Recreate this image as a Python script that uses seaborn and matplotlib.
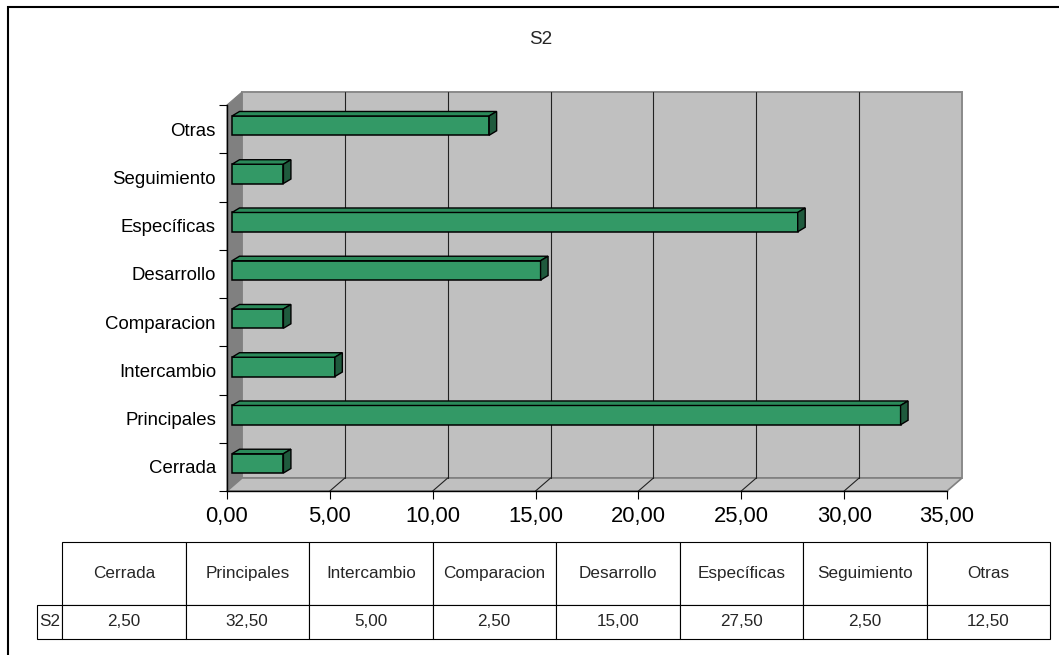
import matplotlib
matplotlib.use("Agg")
import matplotlib.pyplot as plt
import matplotlib.transforms as mtransforms
from matplotlib.patches import Polygon, Rectangle
from matplotlib.lines import Line2D
from matplotlib.ticker import FixedLocator, FuncFormatter
import seaborn as sns
import pandas as pd

# ---- data -----------------------------------------------------------------
categories = ["Cerrada", "Principales", "Intercambio", "Comparacion",
              "Desarrollo", "Específicas", "Seguimiento", "Otras"]
s2_values = [2.5, 32.5, 5.0, 2.5, 15.0, 27.5, 2.5, 12.5]
series_name = "S2"
x_ticks = [0, 5, 10, 15, 20, 25, 30, 35]


def fmt_es(v):
    return f"{v:.2f}".replace(".", ",")


# ---- style ----------------------------------------------------------------
sns.set_style("white")
plt.rcParams["font.family"] = ["Liberation Sans", "DejaVu Sans"]

W, H, DPI = 1059, 655, 100
fig = plt.figure(figsize=(W / DPI, H / DPI), dpi=DPI)
fig.patch.set_facecolor("white")


def fx(px):
    return px / W


def fy(py):
    return 1 - py / H


BAR_FRONT = "#339966"
BAR_TOP = "#2b8a5a"
BAR_SIDE = "#1f5a3d"
WALL = "#c0c0c0"
SIDE_WALL = "#808080"

# front plane of the 3-D plot box
ax = fig.add_axes([fx(227), fy(491), fx(947) - fx(227), fy(105) - fy(491)])
ax.patch.set_visible(False)

df = pd.DataFrame({"categoria": categories, "valor": s2_values})
order = categories[::-1]
sns.barplot(data=df, x="valor", y="categoria", order=order, orient="h",
            color=BAR_FRONT, saturation=1, width=0.4,
            edgecolor="black", linewidth=1.1, ax=ax, zorder=3)

n = len(categories)
ax.set_xlim(x_ticks[0], x_ticks[-1])
ax.set_ylim(n - 0.5, -0.5)
ax.set_xlabel("")
ax.set_ylabel("")

# pixel depth offsets (right, up)
DEPTH = (15, 13)
BAR_F = (5, 3.5)
BAR_B = (12.5, 8)

T = ax.transData
ID = mtransforms.IdentityTransform()


def d(x, y, off=(0, 0)):
    px, py = T.transform((x, y))
    return (px + off[0], py + off[1])


x_lo, x_hi = x_ticks[0], x_ticks[-1]
y_top, y_bot = -0.5, n - 0.5

# walls and floor
side = Polygon([d(x_lo, y_top), d(x_lo, y_bot), d(x_lo, y_bot, DEPTH), d(x_lo, y_top, DEPTH)],
               closed=True, facecolor=SIDE_WALL, edgecolor=SIDE_WALL, lw=0.8,
               transform=ID, clip_on=False, zorder=0.5)
back = Polygon([d(x_lo, y_top, DEPTH), d(x_hi, y_top, DEPTH), d(x_hi, y_bot, DEPTH), d(x_lo, y_bot, DEPTH)],
               closed=True, facecolor=WALL, edgecolor="#8a8a8a", lw=1.4,
               transform=ID, clip_on=False, zorder=0.4)
floor = Polygon([d(x_lo, y_bot), d(x_hi, y_bot), d(x_hi, y_bot, DEPTH), d(x_lo, y_bot, DEPTH)],
                closed=True, facecolor=WALL, edgecolor="#808080", lw=1.2,
                transform=ID, clip_on=False, zorder=0.5)
for p in (back, side, floor):
    ax.add_patch(p)

# gridlines on the back wall and their traces across the floor
for v in x_ticks[1:-1]:
    p0, p1 = d(v, y_bot, DEPTH), d(v, y_top, DEPTH)
    ax.add_line(Line2D([p0[0], p1[0]], [p0[1], p1[1]], color="#222222", lw=0.8,
                       transform=ID, clip_on=False, zorder=0.6))
    f0, f1 = d(v, y_bot), d(v, y_bot, DEPTH)
    ax.add_line(Line2D([f0[0], f1[0]], [f0[1], f1[1]], color="#222222", lw=0.8,
                       transform=ID, clip_on=False, zorder=0.6))

# 3-D bars: shift the front face and add top / side faces
shift = mtransforms.ScaledTranslation(BAR_F[0] / DPI, BAR_F[1] / DPI, fig.dpi_scale_trans)
for bar in list(ax.patches):
    if bar in (back, side, floor):
        continue
    x0, y0 = bar.get_x(), bar.get_y()
    x1, y1 = x0 + bar.get_width(), y0 + bar.get_height()
    bar.set_transform(T + shift)
    ytop = min(y0, y1)
    ybot = max(y0, y1)
    top = Polygon([d(x0, ytop, BAR_F), d(x1, ytop, BAR_F), d(x1, ytop, BAR_B), d(x0, ytop, BAR_B)],
                  closed=True, facecolor=BAR_TOP, edgecolor="black", lw=1.0,
                  transform=ID, clip_on=False, zorder=3.1)
    rside = Polygon([d(x1, ytop, BAR_F), d(x1, ybot, BAR_F), d(x1, ybot, BAR_B), d(x1, ytop, BAR_B)],
                    closed=True, facecolor=BAR_SIDE, edgecolor="black", lw=1.0,
                    transform=ID, clip_on=False, zorder=3.1)
    ax.add_patch(top)
    ax.add_patch(rside)

# axes, ticks and labels
for s in ("top", "right"):
    ax.spines[s].set_visible(False)
for s in ("left", "bottom"):
    ax.spines[s].set_color("black")
    ax.spines[s].set_linewidth(1.0)
    ax.spines[s].set_zorder(2.5)

ax.xaxis.set_major_locator(FixedLocator(x_ticks))
ax.xaxis.set_major_formatter(FuncFormatter(lambda v, _: fmt_es(v)))
ax.tick_params(axis="x", direction="out", length=5.5, width=0.8, pad=5.5,
               labelsize=15.8, colors="black", bottom=True)

ax.set_yticks([i - 0.5 for i in range(n + 1)])
ax.set_yticklabels([])
ax.set_yticks(list(range(n)), minor=True)
ax.set_yticklabels(order, minor=True)
ax.tick_params(axis="y", which="major", direction="out", length=5.5, width=0.8,
               left=True, colors="black")
ax.tick_params(axis="y", which="minor", length=0, pad=8, labelsize=13.4,
               labelcolor="black", left=True)

fig.text(fx(541), fy(40), series_name, ha="center", va="center", fontsize=13.6)

# data table under the chart (row-label column + one column per category)
t_left, t_right, t_top, t_mid, t_bot = 29, 1050, 542, 605, 639
t_label_right = 62
tax = fig.add_axes([fx(t_left), fy(t_bot), fx(t_right) - fx(t_left), fy(t_top) - fy(t_bot)])
tax.axis("off")
tw = t_right - t_left
th = t_bot - t_top
label_w = (t_label_right - t_left) / tw
col_w = (t_right - t_label_right) / tw / len(categories)
head_h = (t_mid - t_top) / th
row_h = (t_bot - t_mid) / th
tbl = tax.table(cellText=[[fmt_es(v) for v in s2_values]], colLabels=categories,
                rowLabels=[series_name], cellLoc="center", rowLoc="left",
                colLoc="center", bbox=[label_w, 0, 1 - label_w, 1])
tbl.auto_set_font_size(False)
tbl.set_fontsize(12.3)
for (r, c), cell in tbl.get_celld().items():
    cell.set_edgecolor("black")
    cell.set_linewidth(0.8)
    cell.set_width(label_w if c == -1 else col_w)
    cell.set_height(head_h if r == 0 else row_h)

# chart-area frame
fig.add_artist(Rectangle((fx(8), -0.2), 1.5, fy(7) + 0.2, transform=fig.transFigure,
                         fill=False, edgecolor="black", lw=1.5))

fig.savefig("out.png", dpi=DPI, facecolor="white")
